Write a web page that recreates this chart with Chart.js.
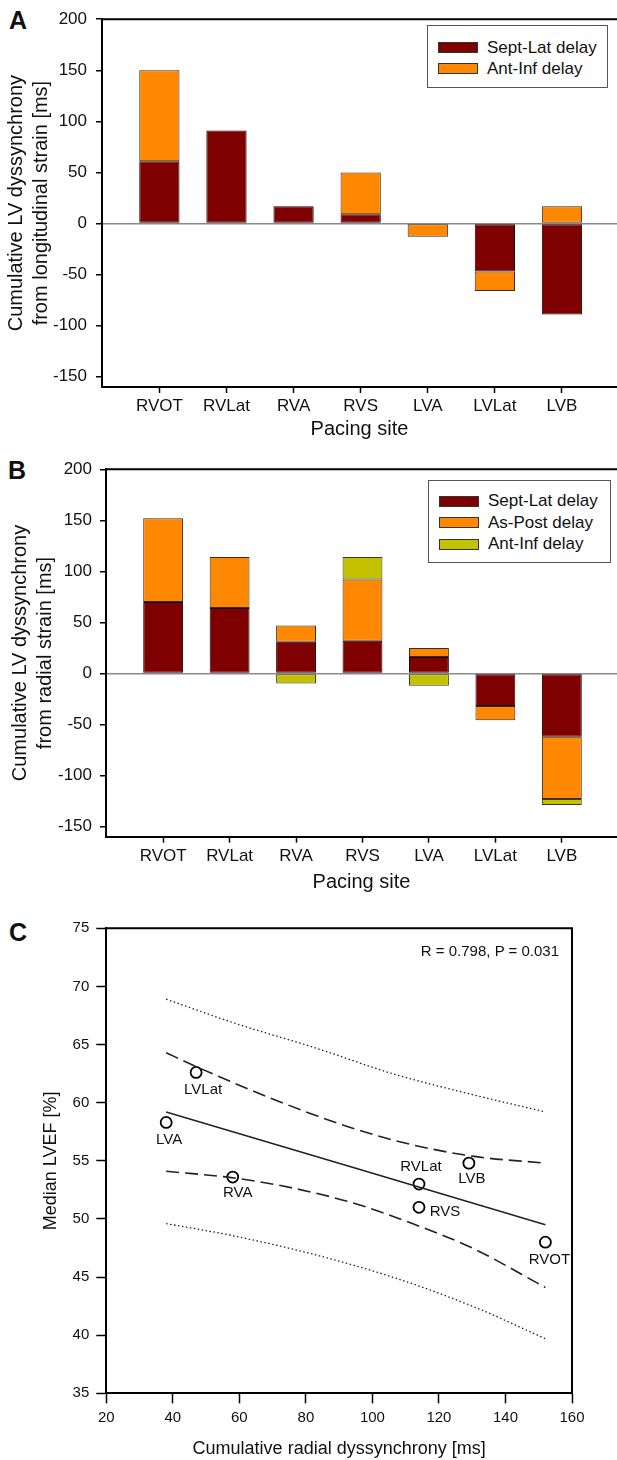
<!DOCTYPE html>
<html>
<head>
<meta charset="utf-8">
<script src="https://cdn.jsdelivr.net/npm/chart.js"></script>
<style>
  html, body { margin: 0; padding: 0; background: #fff; width: 617px; height: 1460px; overflow: hidden;
               font-family: "Liberation Sans", Arial, sans-serif; color: #111; }
  canvas { position: absolute; left: 0; }
  .letter { position: absolute; font-weight: bold; font-size: 25px; line-height: 1; }
  .legend { position: absolute; border: 1px solid #555; background: #fff; box-sizing: border-box; }
  .legend .sw { position: absolute; left: 10px; width: 40px; height: 11px; box-sizing: border-box; border: 1px solid #333; }
  .legend .lbl { position: absolute; font-size: 17px; line-height: 20px; white-space: nowrap; }
  .note { position: absolute; font-size: 15px; line-height: 18px; white-space: nowrap; }
</style>
</head>
<body>

<div class="letter" style="left:9px;top:8px">A</div>
<canvas id="chartA" width="617" height="441" style="top:0"></canvas>
<div class="legend" id="legA" style="left:427px;top:25px;width:181px;height:63px"></div>

<div class="letter" style="left:8px;top:458px">B</div>
<canvas id="chartB" width="617" height="444" style="top:450px"></canvas>
<div class="legend" id="legB" style="left:428px;top:480px;width:183px;height:83px"></div>

<div class="letter" style="left:9px;top:920px">C</div>
<canvas id="chartC" width="617" height="565" style="top:895px"></canvas>
<div class="note" style="right:58px;top:942px">R = 0.798, P = 0.031</div>

<script>
// ── DATA ─────────────────────────────────────────
const sites = ['RVOT', 'RVLat', 'RVA', 'RVS', 'LVA', 'LVLat', 'LVB'];
const yTicksAB = [-150, -100, -50, 0, 50, 100, 150, 200];

// A: longitudinal strain delays [ms]
const longSeptLat = [61, 91, 17, 9, null, -47, -89];
const longAntInf  = [89, null, null, 41, -13, -19, 17];

// B: radial strain delays [ms]
const radSeptLat = [70, 64, 31, 32, 16, -32, -62];
const radAsPost  = [82, 50, 16, 60, 9, -14, -61];
const radAntInf  = [null, null, -10, 22, -12, null, -6];

// C: LVEF vs cumulative radial dyssynchrony (same site order)
const radialTotal = [152, 114, 58, 114, 38, 47, 129];
const medianLVEF  = [48.0, 53.0, 53.6, 51.0, 58.3, 62.6, 54.8];
const fitX  = [38, 152];
const fitY  = [59.2, 49.5];
const ciUpX = [38, 47, 83, 106, 130, 152];
const ciUpY = [64.3, 63.1, 58.9, 56.8, 55.4, 54.8];
const ciLoX = [38, 59, 77, 95, 112, 130, 152];
const ciLoY = [54.1, 53.5, 52.6, 51.3, 49.6, 47.5, 44.1];
const piUpX = [38, 59, 83, 106, 130, 152];
const piUpY = [68.9, 66.8, 64.7, 62.5, 60.7, 59.2];
const piLoX = [38, 59, 83, 106, 130, 152];
const piLoY = [49.6, 48.5, 46.9, 45.0, 42.5, 39.7];

// ── STYLE ────────────────────────────────────────
const FONT = '"Liberation Sans", Arial, sans-serif';
const MAROON = '#7f0000', ORANGE = '#ff8800', OLIVE = '#c4c200';
const labelOffsets = [[4, 18], [2, -17], [5, 16], [26, 5], [3, 17], [7, 17], [3, 16]];

const framePlugin = {
  id: 'frame',
  afterDraw(chart, args, opts) {
    const { ctx, chartArea: a } = chart;
    ctx.save();
    ctx.strokeStyle = '#000';
    ctx.lineWidth = 2;
    ctx.beginPath();
    if (opts.top)   { ctx.moveTo(a.left - 1, a.top); ctx.lineTo(a.right, a.top); }
    if (opts.right) { ctx.moveTo(a.right, a.top - 1); ctx.lineTo(a.right, a.bottom + 1); }
    ctx.stroke();
    ctx.restore();
  }
};

const pointLabels = {
  id: 'pointLabels',
  afterDatasetsDraw(chart, args, opts) {
    if (opts.dataset == null) return;
    const meta = chart.getDatasetMeta(opts.dataset);
    const ctx = chart.ctx;
    ctx.save();
    ctx.font = '15px ' + FONT;
    ctx.fillStyle = '#111';
    ctx.textAlign = 'center';
    ctx.textBaseline = 'middle';
    meta.data.forEach((pt, i) => {
      const [dx, dy] = labelOffsets[i];
      ctx.fillText(sites[i], pt.x + dx, pt.y + dy);
    });
    ctx.restore();
  }
};

function makeLegend(id, items, rowTops) {
  const el = document.getElementById(id);
  items.forEach((it, i) => {
    const sw = document.createElement('div');
    sw.className = 'sw';
    sw.style.top = (rowTops[i] - 5.5) + 'px';
    sw.style.background = it.color;
    el.appendChild(sw);
    const lb = document.createElement('div');
    lb.className = 'lbl';
    lb.style.left = '59px';
    lb.style.top = (rowTops[i] - 10) + 'px';
    lb.textContent = it.label;
    el.appendChild(lb);
  });
}

function barPanel(id, series, o) {
  return new Chart(document.getElementById(id), {
    type: 'bar',
    data: {
      datasets: series.map(s => ({
        label: s.label,
        data: s.values.map((v, i) => ({ x: i, y: v })),
        backgroundColor: s.color,
        borderColor: s.edge,
        borderWidth: 1,
        borderSkipped: false,
        barPercentage: 0.6,
        categoryPercentage: 1
      }))
    },
    options: {
      responsive: false, animation: false, devicePixelRatio: 1,
      layout: { padding: { top: o.top, right: 0, bottom: 0, left: 0 } },
      plugins: { legend: { display: false }, tooltip: { enabled: false }, frame: { top: true } },
      scales: {
        x: {
          type: 'linear', stacked: true, min: o.xmin, max: o.xmax, offset: false,
          afterBuildTicks: s => { s.ticks = sites.map((_, i) => ({ value: i })); },
          afterFit: s => { s.height = o.xh; },
          ticks: { callback: v => sites[v], font: { family: FONT, size: 17 }, color: '#111', padding: 3, maxRotation: 0, autoSkip: false },
          grid: { offset: false, drawOnChartArea: false, tickLength: 6, tickColor: '#000', tickWidth: 1.5 },
          border: { color: '#000', width: 2 },
          title: { display: true, text: 'Pacing site', font: { family: FONT, size: 20 }, color: '#111', padding: 0 }
        },
        y: {
          stacked: true, min: -160, max: 200,
          afterBuildTicks: s => { s.ticks = yTicksAB.map(v => ({ value: v })); },
          afterFit: s => { s.width = o.yw; },
          ticks: { font: { family: FONT, size: 17 }, color: '#111', padding: o.ytpad },
          grid: {
            color: c => (c.tick && c.tick.value === 0) ? '#8a8a8a' : 'rgba(0,0,0,0)',
            lineWidth: 1.5, tickLength: 6, tickColor: '#000', tickWidth: 1.5
          },
          border: { color: '#000', width: 2 },
          title: { display: true, text: o.ytitle, font: { family: FONT, size: 20, lineHeight: 1.25 }, color: '#111',
                   padding: { top: o.ytitlePad, bottom: 0 } }
        }
      }
    },
    plugins: [framePlugin]
  });
}

// ── PANEL A ──────────────────────────────────────
barPanel('chartA', [
  { label: 'Sept-Lat delay', values: longSeptLat, color: MAROON, edge: '#1a0000' },
  { label: 'Ant-Inf delay',  values: longAntInf,  color: ORANGE, edge: '#3a2a1a' }
], { top: 15, xh: 54, yw: 102, xmin: -0.855, xmax: 6.82, ytpad: 9, ytitlePad: 3.5,
     ytitle: ['Cumulative LV dyssynchrony', 'from longitudinal strain [ms]'] });
makeLegend('legA', [
  { label: 'Sept-Lat delay', color: MAROON },
  { label: 'Ant-Inf delay',  color: ORANGE }
], [21.5, 42.5]);

// ── PANEL B ──────────────────────────────────────
barPanel('chartB', [
  { label: 'Sept-Lat delay', values: radSeptLat, color: MAROON, edge: '#1a0000' },
  { label: 'As-Post delay',  values: radAsPost,  color: ORANGE, edge: '#3a2a1a' },
  { label: 'Ant-Inf delay',  values: radAntInf,  color: OLIVE,  edge: '#3a3a22' }
], { top: 19.3, xh: 57.3, yw: 106, xmin: -0.86, xmax: 6.83, ytpad: 8, ytitlePad: 7.5,
     ytitle: ['Cumulative LV dyssynchrony', 'from radial strain [ms]'] });
makeLegend('legB', [
  { label: 'Sept-Lat delay', color: MAROON },
  { label: 'As-Post delay',  color: ORANGE },
  { label: 'Ant-Inf delay',  color: OLIVE }
], [20, 41.5, 63]);

// ── PANEL C ──────────────────────────────────────
const xy = (xs, ys) => xs.map((x, i) => ({ x, y: ys[i] }));
const curve = (xs, ys, dash, w) => ({
  type: 'line', data: xy(xs, ys), borderColor: '#222', borderWidth: w, borderDash: dash,
  pointRadius: 0, cubicInterpolationMode: 'monotone', fill: false
});

new Chart(document.getElementById('chartC'), {
  type: 'scatter',
  data: {
    datasets: [
      curve(piUpX, piUpY, [1.5, 2.5], 1.3),
      curve(piLoX, piLoY, [1.5, 2.5], 1.3),
      curve(ciUpX, ciUpY, [13, 6], 1.6),
      curve(ciLoX, ciLoY, [13, 6], 1.6),
      curve(fitX, fitY, [], 1.6),
      {
        type: 'scatter', data: xy(radialTotal, medianLVEF),
        pointRadius: 5.5, pointBorderWidth: 1.8, borderColor: '#000', backgroundColor: 'rgba(255,255,255,0)'
      }
    ]
  },
  options: {
    responsive: false, animation: false, devicePixelRatio: 1,
    layout: { padding: { top: 33.3, right: 45, bottom: 0, left: 0 } },
    plugins: { legend: { display: false }, tooltip: { enabled: false },
               frame: { top: true, right: true }, pointLabels: { dataset: 5 } },
    scales: {
      x: {
        type: 'linear', min: 20, max: 160,
        ticks: { stepSize: 20, font: { family: FONT, size: 15 }, color: '#111', padding: 6 },
        afterFit: s => { s.height = 66.7; },
        grid: { drawOnChartArea: false, tickLength: 10, tickColor: '#000', tickWidth: 1.5 },
        border: { color: '#000', width: 2 },
        title: { display: true, text: 'Cumulative radial dyssynchrony [ms]', font: { family: FONT, size: 18 }, color: '#111', padding: 0 }
      },
      y: {
        min: 35, max: 75,
        ticks: { stepSize: 5, font: { family: FONT, size: 15 }, color: '#111', padding: 7 },
        afterFit: s => { s.width = 106.3; },
        grid: { drawOnChartArea: false, tickLength: 10, tickColor: '#000', tickWidth: 1.5 },
        border: { color: '#000', width: 2 },
        title: { display: true, text: 'Median LVEF [%]', font: { family: FONT, size: 18 }, color: '#111',
                 padding: { top: 40, bottom: 0 } }
      }
    }
  },
  plugins: [framePlugin, pointLabels]
});
</script>
</body>
</html>
